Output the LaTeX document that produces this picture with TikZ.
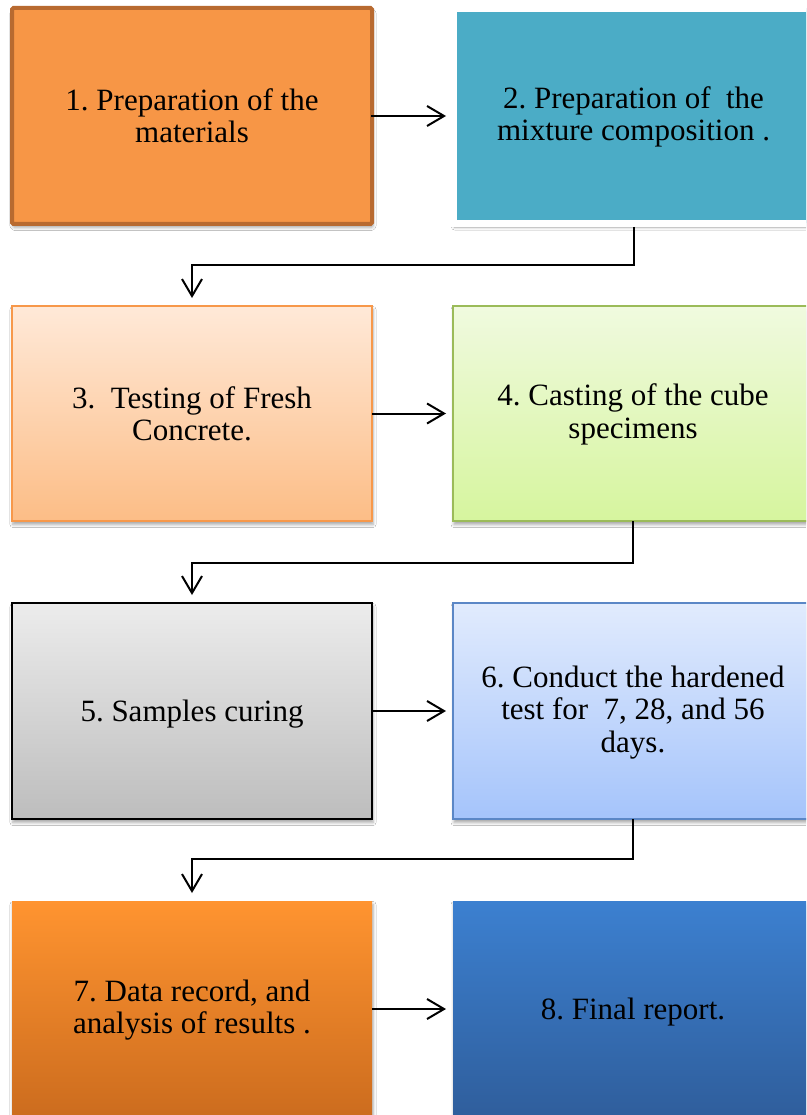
\documentclass[tikz,border=0pt]{standalone}
\usepackage{fontspec}
\setmainfont{Liberation Serif}
\usetikzlibrary{arrows.meta,shadows.blur}

\definecolor{orgfill}{HTML}{F79646}
\definecolor{orgline}{HTML}{B86A30}
\definecolor{tealfill}{HTML}{4BACC6}
\definecolor{peachtop}{HTML}{FFE9D8}
\definecolor{peachbot}{HTML}{FCBD86}
\definecolor{peachline}{HTML}{F7984A}
\definecolor{greentop}{HTML}{F0FADF}
\definecolor{greenbot}{HTML}{D6F59E}
\definecolor{greenline}{HTML}{9BBB59}
\definecolor{greytop}{HTML}{ECECEC}
\definecolor{greybot}{HTML}{BDBDBD}
\definecolor{skytop}{HTML}{E1EBFD}
\definecolor{skybot}{HTML}{A5C4FB}
\definecolor{skyline}{HTML}{5B87C6}
\definecolor{ambertop}{HTML}{FF9430}
\definecolor{amberbot}{HTML}{CC6C1E}
\definecolor{navytop}{HTML}{3C80D0}
\definecolor{navybot}{HTML}{2F5E9C}

% fixed line height above the first and depth below the last line of a label
\newcommand{\hi}{\rule{0pt}{24pt}}
\newcommand{\hione}{\rule{0pt}{28pt}}
\newcommand{\lo}{\rule[-2.5pt]{0pt}{0pt}}
\newcommand{\loone}{\rule[-2pt]{0pt}{0pt}}

\tikzset{
  stepbox/.style={rectangle, minimum width=360pt, minimum height=216pt,
    outer sep=0pt, inner sep=0pt, align=center,
    font=\fontsize{31}{32.5}\selectfont\frenchspacing},
  soft/.style={blur shadow={shadow xshift=1pt, shadow yshift=-3.5pt,
    shadow blur radius=3pt, shadow opacity=35}},
  link/.style={line width=2pt, line join=miter,
    -{Straight Barb[length=17pt,width=20pt,line width=2pt]}},
}

\begin{document}
\begin{tikzpicture}[x=1pt,y=-1pt]
  \useasboundingbox (0,0) rectangle (806,1115);
  \fill[white] (0,0) rectangle (806,1115);
  \clip (0,0) rectangle (806,1115);

  % row 1
  \node[stepbox, soft, fill=orgfill, draw=orgline, line width=4pt,
        rounded corners=1.5pt] (s1) at (192,116)
        {\hi 1. Preparation of the\\materials\lo};
  \node[stepbox, soft, minimum height=215pt, fill=tealfill, draw=white,
        line width=7pt, outer sep=3.5pt] (s2) at (633.5,116)
        {\hi 2. Preparation of~ the\\mixture composition .\lo};

  % row 2
  \node[stepbox, soft, minimum height=215pt, top color=peachtop,
        bottom color=peachbot, draw=peachline, line width=1.5pt] (s3)
        at (192,413.5) {\hi 3.~ Testing of Fresh\\Concrete.\lo};
  \node[stepbox, soft, minimum height=215pt, top color=greentop,
        bottom color=greenbot, draw=greenline, line width=1.5pt] (s4)
        at (633,413.5) {\hi 4. Casting of the cube\\specimens\lo};

  % row 3
  \node[stepbox, soft, top color=greytop, bottom color=greybot,
        draw=black, line width=1.5pt] (s5) at (192,711)
        {\hione 5. Samples curing\loone};
  \node[stepbox, soft, top color=skytop, bottom color=skybot,
        draw=skyline, line width=1.5pt] (s6) at (633,711)
        {\hi 6. Conduct the hardened\\test for~ 7, 28, and 56\\days.\lo};

  % row 4
  \node[stepbox, soft, top color=ambertop, bottom color=amberbot] (s7)
        at (192,1009) {\hi 7. Data record, and\\analysis of results .\lo};
  \node[stepbox, soft, top color=navytop, bottom color=navybot] (s8)
        at (633,1009) {\hione 8. Final report.\loone};

  % connectors within a row
  \draw[link, shorten <=-1pt, shorten >=4pt] (s1.east) -- (s2.west);
  \draw[link, shorten >=7pt] (s3.east) -- (s4.west);
  \draw[link, shorten >=7pt] (s5.east) -- (s6.west);
  \draw[link, shorten >=7pt] (s7.east) -- (s8.west);

  % connectors between rows
  \draw[link, shorten >=8pt] (s2.south) -- ++(0,37.5) -| (s3.north);
  \draw[link, shorten >=8pt] (s4.south) -- ++(0,42) -| (s5.north);
  \draw[link, shorten >=8pt] (s6.south) -- ++(0,40) -| (s7.north);
\end{tikzpicture}
\end{document}
